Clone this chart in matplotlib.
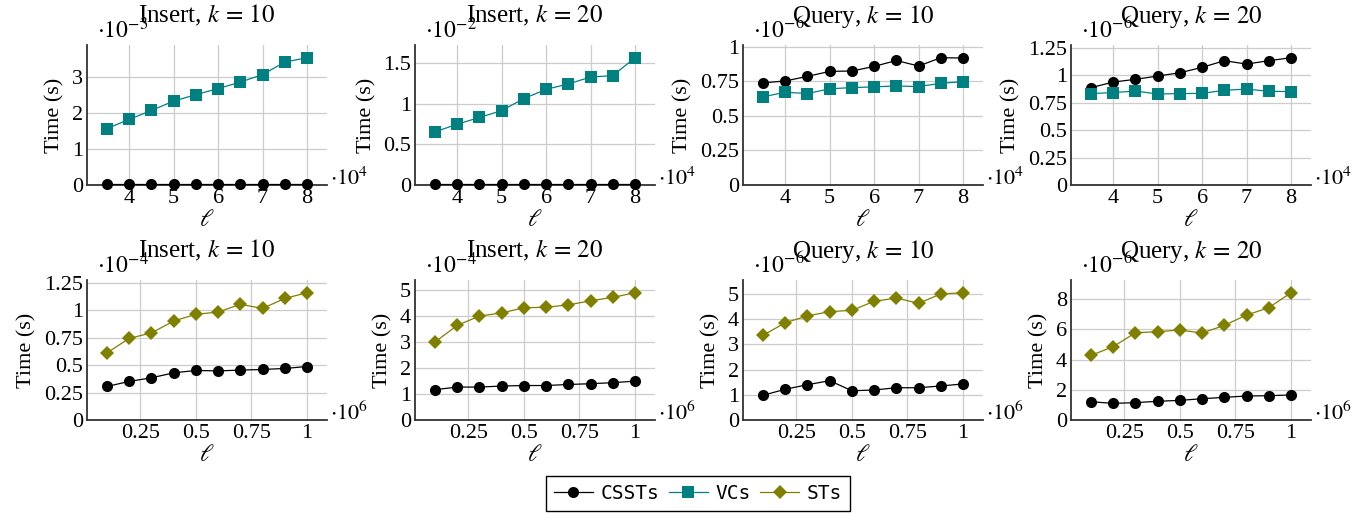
import matplotlib
matplotlib.use('Agg')
import matplotlib.pyplot as plt
from matplotlib.ticker import FuncFormatter, FixedLocator
from matplotlib.lines import Line2D

plt.rcParams['font.family'] = ['Liberation Serif', 'DejaVu Serif']
plt.rcParams['mathtext.fontset'] = 'stix'
plt.rcParams['font.size'] = 16

# x values (number of elements)
ell_top = [35000, 40000, 45000, 50000, 55000, 60000, 65000, 70000, 75000, 80000]
ell_bottom = [100000, 200000, 300000, 400000, 500000, 600000, 700000, 800000, 900000, 1000000]

# top row, times in the units shown by each panel's multiplier
ins10_cssts_top = [0.03, 0.03, 0.03, 0.03, 0.03, 0.03, 0.03, 0.03, 0.03, 0.03]       # 1e-3
ins10_vcs = [1.575, 1.83, 2.08, 2.34, 2.52, 2.69, 2.87, 3.08, 3.43, 3.55]             # 1e-3
ins20_cssts_top = [0.012, 0.012, 0.012, 0.012, 0.012, 0.012, 0.012, 0.012, 0.012, 0.012]  # 1e-2
ins20_vcs = [0.656, 0.75, 0.833, 0.918, 1.066, 1.18, 1.246, 1.332, 1.349, 1.57]       # 1e-2
q10_cssts_top = [0.739, 0.753, 0.786, 0.822, 0.825, 0.858, 0.901, 0.861, 0.921, 0.919]  # 1e-6
q10_vcs = [0.638, 0.671, 0.662, 0.696, 0.705, 0.71, 0.717, 0.712, 0.736, 0.748]       # 1e-6
q20_cssts_top = [0.888, 0.939, 0.964, 0.994, 1.024, 1.073, 1.134, 1.103, 1.134, 1.161]  # 1e-6
q20_vcs = [0.834, 0.843, 0.857, 0.83, 0.834, 0.836, 0.864, 0.875, 0.855, 0.852]       # 1e-6

# bottom row
ins10_cssts_bot = [0.306, 0.352, 0.385, 0.43, 0.452, 0.448, 0.455, 0.461, 0.47, 0.488]  # 1e-4
ins10_sts = [0.612, 0.745, 0.794, 0.903, 0.964, 0.985, 1.055, 1.018, 1.109, 1.161]     # 1e-4
ins20_cssts_bot = [1.17, 1.27, 1.27, 1.31, 1.33, 1.33, 1.37, 1.40, 1.44, 1.50]         # 1e-4
ins20_sts = [3.01, 3.65, 4.01, 4.13, 4.33, 4.35, 4.44, 4.6, 4.73, 4.91]                # 1e-4
q10_cssts_bot = [0.98, 1.22, 1.40, 1.56, 1.16, 1.19, 1.28, 1.28, 1.35, 1.43]           # 1e-6
q10_sts = [3.36, 3.86, 4.13, 4.30, 4.35, 4.71, 4.84, 4.63, 5.0, 5.05]                  # 1e-6
q20_cssts_bot = [1.21, 1.10, 1.15, 1.24, 1.30, 1.41, 1.50, 1.59, 1.61, 1.66]           # 1e-6
q20_sts = [4.28, 4.86, 5.78, 5.85, 5.96, 5.76, 6.27, 6.95, 7.44, 8.43]                 # 1e-6

titles = ['Insert, $k\\,=\\,10$', 'Insert, $k\\,=\\,20$', 'Query, $k\\,=\\,10$', 'Query, $k\\,=\\,20$']

styles = {
    'CSSTs': dict(color='black', marker='o', markersize=8),
    'VCs': dict(color='#008080', marker='s', markersize=8),
    'STs': dict(color='#808000', marker='D', markersize=7.5),
}

panels = [
    # row, col, x, xexp, series, yexp, yticks
    (0, 0, ell_top, 4, [('CSSTs', ins10_cssts_top), ('VCs', ins10_vcs)], -3, [0, 1, 2, 3]),
    (0, 1, ell_top, 4, [('CSSTs', ins20_cssts_top), ('VCs', ins20_vcs)], -2, [0, 0.5, 1, 1.5]),
    (0, 2, ell_top, 4, [('CSSTs', q10_cssts_top), ('VCs', q10_vcs)], -6, [0, 0.25, 0.5, 0.75, 1]),
    (0, 3, ell_top, 4, [('CSSTs', q20_cssts_top), ('VCs', q20_vcs)], -6, [0, 0.25, 0.5, 0.75, 1, 1.25]),
    (1, 0, ell_bottom, 6, [('CSSTs', ins10_cssts_bot), ('STs', ins10_sts)], -4, [0, 0.25, 0.5, 0.75, 1, 1.25]),
    (1, 1, ell_bottom, 6, [('CSSTs', ins20_cssts_bot), ('STs', ins20_sts)], -4, [0, 1, 2, 3, 4, 5]),
    (1, 2, ell_bottom, 6, [('CSSTs', q10_cssts_bot), ('STs', q10_sts)], -6, [0, 1, 2, 3, 4, 5]),
    (1, 3, ell_bottom, 6, [('CSSTs', q20_cssts_bot), ('STs', q20_sts)], -6, [0, 2, 4, 6, 8]),
]
xticks = {4: [40000, 50000, 60000, 70000, 80000], 6: [250000, 500000, 750000, 1000000]}

W, H = 1364, 514
fig = plt.figure(figsize=(W / 100, H / 100), dpi=100)
lefts = [87, 415, 743, 1071]
tops = [45, 280]
aw, ah = 240, 140

for row, col, x, xexp, series, yexp, yticks in panels:
    ax = fig.add_axes([lefts[col] / W, 1 - (tops[row] + ah) / H, aw / W, ah / H])
    for name, vals in series:
        ax.plot(x, vals, linewidth=0.9, markeredgewidth=0, zorder=3, clip_on=False, **styles[name])
    ax.margins(x=0.1)
    ymax = max(max(v) for _, v in series)
    ax.set_ylim(0, 1.1 * ymax)
    ax.yaxis.set_major_locator(FixedLocator(yticks))
    ax.xaxis.set_major_locator(FixedLocator(xticks[xexp]))
    ax.yaxis.set_major_formatter(FuncFormatter(lambda v, p: f'{v:g}'))
    ax.xaxis.set_major_formatter(FuncFormatter(lambda v, p, e=xexp: f'{v / 10**e:g}'))
    ax.grid(True, color='#cccccc', linewidth=0.9)
    ax.set_axisbelow(True)
    for s in ('top', 'right'):
        ax.spines[s].set_visible(False)
    for s in ('left', 'bottom'):
        ax.spines[s].set_linewidth(1.3)
        ax.spines[s].set_color('#333333')
    ax.tick_params(length=0, pad=3, labelsize=16)
    ax.set_title(titles[col], pad=16, fontsize=18)
    ax.set_ylabel('Time (s)', labelpad=5, fontsize=16)
    ax.set_xlabel(r'$\ell$', labelpad=1, fontsize=17)
    ax.annotate(r'$\cdot 10^{%d}$' % yexp, xy=(0, 1), xycoords='axes fraction',
                xytext=(7, 5), textcoords='offset points', ha='left', va='baseline', fontsize=17)
    ax.annotate(r'$\cdot 10^{%d}$' % xexp, xy=(1, 0), xycoords='axes fraction',
                xytext=(2, 0), textcoords='offset points', ha='left', va='baseline', fontsize=16)

handles = [Line2D([], [], linewidth=0.9, markeredgewidth=0, **styles[n]) for n in ('CSSTs', 'VCs', 'STs')]
fig.legend(handles, ['CSSTs', 'VCs', 'STs'], loc='center', bbox_to_anchor=(698 / W, 1 - 493.5 / H),
           ncol=3, prop={'family': 'DejaVu Sans Mono', 'size': 14}, frameon=True, fancybox=False,
           edgecolor='black', framealpha=1, handlelength=2, handletextpad=0.4, columnspacing=0.5,
           borderpad=0.4)

fig.savefig('out.png', dpi=100)
